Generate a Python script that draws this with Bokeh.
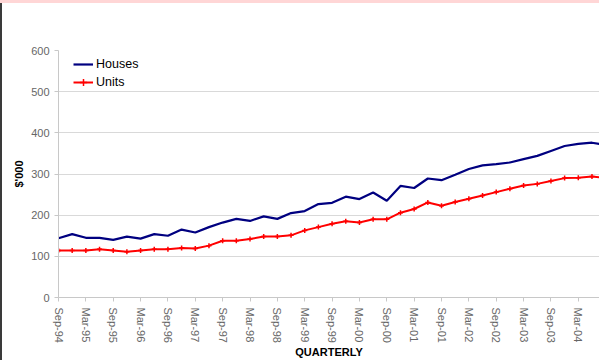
from bokeh.plotting import figure
from bokeh.models import Range1d, FixedTicker, Div
from bokeh.layouts import column, row
from bokeh.embed import file_html
from bokeh.resources import INLINE

# ---- data (quarterly median prices, $'000) ----
tick_labels = ["Sep-94", "Mar-95", "Sep-95", "Mar-96", "Sep-96", "Mar-97", "Sep-97",
               "Mar-98", "Sep-98", "Mar-99", "Sep-99", "Mar-00", "Sep-00", "Mar-01",
               "Sep-01", "Mar-02", "Sep-02", "Mar-03", "Sep-03", "Mar-04"]
houses = [144, 154, 145, 145, 140, 148, 143, 154, 150, 165,
          158, 171, 182, 191, 186, 197, 191, 205, 210, 227,
          230, 245, 239, 255, 235, 271, 266, 289, 285, 298,
          312, 321, 324, 328, 336, 344, 356, 368, 373, 376, 370]
units = [114, 114, 114, 117, 114, 111, 114, 117, 117, 120,
         119, 126, 138, 138, 142, 148, 148, 151, 163, 171,
         179, 185, 182, 190, 190, 206, 215, 231, 223, 232,
         240, 248, 256, 264, 272, 276, 283, 290, 291, 294, 290]
y_ticks = [0, 100, 200, 300, 400, 500, 600]

FONT = "Liberation Sans"
quarters = list(range(len(houses)))
tick_pos = [2 * i for i in range(len(tick_labels))]

p = figure(width=597, height=357, output_backend="svg", toolbar_location=None,
           x_range=Range1d(0, 39.55), y_range=Range1d(0, 600),
           min_border_left=56, min_border_top=47, min_border_bottom=62,
           min_border_right=0)
p.outline_line_color = None
p.background_fill_color = "white"
p.border_fill_color = "white"
p.xgrid.visible = False
p.ygrid.grid_line_color = "#d9d9d9"
p.ygrid.grid_line_width = 1

# axes
p.yaxis.ticker = FixedTicker(ticks=y_ticks)
p.xaxis.ticker = FixedTicker(ticks=tick_pos)
p.xaxis.major_label_overrides = {pos: lab for pos, lab in zip(tick_pos, tick_labels)}
p.xaxis.major_label_orientation = "vertical"
for ax in (p.xaxis[0], p.yaxis[0]):
    ax.axis_line_color = "#c8c8c8"
    ax.major_tick_line_color = "#c8c8c8"
    ax.major_tick_out = 4
    ax.major_tick_in = 0
    ax.minor_tick_line_color = None
    ax.major_label_text_font = FONT
    ax.major_label_text_font_size = "11px"
    ax.major_label_text_color = "#666666"
    ax.axis_label_text_font = FONT
    ax.axis_label_text_font_size = "11px"
    ax.axis_label_text_font_style = "bold"
    ax.axis_label_text_color = "black"
p.xaxis.major_label_standoff = 6
p.yaxis.major_label_standoff = 5
p.xaxis.axis_label = "QUARTERLY"
p.yaxis.axis_label = "$'000"
p.xaxis.axis_label_standoff = 0
p.yaxis.axis_label_standoff = 3

# series
p.line(quarters, houses, line_color="#000080", line_width=2.2, legend_label="Houses")
p.line(quarters, units, line_color="#ff0000", line_width=2, legend_label="Units")
p.scatter(quarters, units, marker="cross", size=5, line_color="#ff0000",
          line_width=1.5, legend_label="Units")

leg = p.legend[0]
leg.location = (15, 206)
leg.border_line_color = None
leg.background_fill_alpha = 0
leg.padding = 0
leg.margin = 0
leg.spacing = 0
leg.label_height = 18
leg.glyph_height = 18
leg.glyph_width = 20
leg.label_standoff = 3
leg.label_text_font = FONT
leg.label_text_font_size = "12.5px"
leg.label_text_color = "black"

top_band = Div(text="", width=599, height=3, margin=0,
               styles={"background-color": "#FFD6D6"})
left_line = Div(text="", width=2, height=357, margin=0,
                styles={"background-color": "#3a3a3a"})
layout = column(top_band, row(left_line, p, spacing=0), spacing=0)

open("out.html", "w").write(file_html(layout, INLINE))
